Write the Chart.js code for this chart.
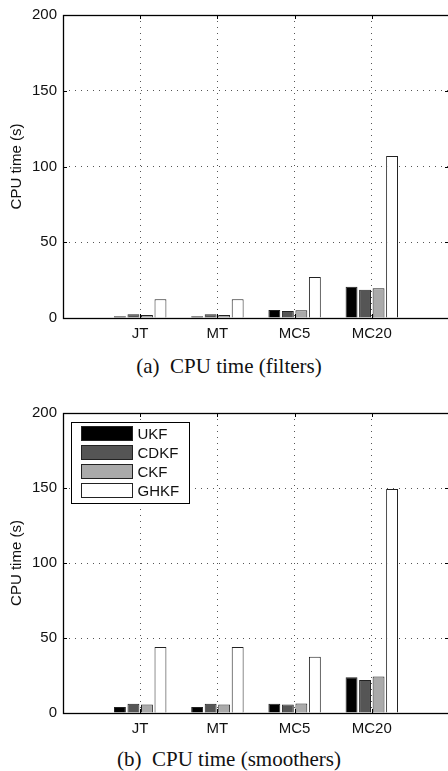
<!DOCTYPE html>
<html>
<head>
<meta charset="utf-8">
<script src="https://cdn.jsdelivr.net/npm/chart.js@4.4.0/dist/chart.umd.min.js"></script>
<style>
  body { margin: 0; background: #fff; width: 448px; height: 771px; overflow: hidden; position: relative; }
  .wrap { position: absolute; left: 0; width: 456px; }
  .caption { position: absolute; left: 0; width: 458px; text-align: center; line-height: 24px;
    font-family: "Liberation Serif", "DejaVu Serif", serif; font-size: 21px; color: #111; }
</style>
</head>
<body>
<div class="wrap" style="top:0px;height:340px"><canvas id="filters-chart"></canvas></div>
<div class="caption" style="top:354px">(a)&nbsp; CPU time (filters)</div>
<div class="wrap" style="top:390px;height:345px"><canvas id="smoothers-chart"></canvas></div>
<div class="caption" style="top:747px">(b)&nbsp; CPU time (smoothers)</div>
<script>
// categories (empty slots at both ends, like the matlab axis 0..5)
const categories = ["", "JT", "MT", "MC5", "MC20", ""];
const methods = ["UKF", "CDKF", "CKF", "GHKF"];
const colors = ["#000000", "#555555", "#aaaaaa", "#ffffff"];

// CPU time (s) - filters
const filtUKF = [null, 1.2, 1.2, 5.2, 20.7, null];
const filtCDKF = [null, 2.4, 2.4, 4.7, 18.6, null];
const filtCKF = [null, 1.9, 1.9, 5.1, 19.6, null];
const filtGHKF = [null, 12.3, 12.3, 27, 107, null];

// CPU time (s) - smoothers
const smoothUKF = [null, 4, 4, 6.2, 23.8, null];
const smoothCDKF = [null, 6.2, 6.2, 5.7, 22, null];
const smoothCKF = [null, 5.7, 5.7, 6.4, 24.4, null];
const smoothGHKF = [null, 44, 44, 37.5, 149.3, null];

const yTicks = [0, 50, 100, 150, 200];

const font = { family: "'Liberation Sans', Arial, sans-serif", size: 15 };

// box around the plot + small inward ticks (matlab style)
const boxPlugin = {
  id: "box",
  afterDatasetsDraw(chart) {
    const ctx = chart.ctx;
    const a = chart.chartArea;
    const xs = chart.scales.x, ys = chart.scales.y;
    ctx.save();
    ctx.strokeStyle = "#000";
    ctx.lineWidth = 1;
    ctx.beginPath();
    for (let i = 1; i < categories.length - 1; i++) {
      const px = Math.round(xs.getPixelForValue(i)) + 0.5;
      ctx.moveTo(px, a.bottom); ctx.lineTo(px, a.bottom - 4);
      ctx.moveTo(px, a.top); ctx.lineTo(px, a.top + 4);
    }
    for (const v of yTicks) {
      const py = Math.round(ys.getPixelForValue(v)) + 0.5;
      ctx.moveTo(a.left, py); ctx.lineTo(a.left + 4, py);
      ctx.moveTo(a.right, py); ctx.lineTo(a.right - 4, py);
    }
    ctx.stroke();
    ctx.lineWidth = 1.3;
    ctx.strokeRect(Math.round(a.left) + 0.5, Math.round(a.top) + 0.5,
      Math.round(a.right - a.left), Math.round(a.bottom - a.top));
    ctx.restore();
  }
};

// legend box drawn inside the plot area, top-left
const insideLegend = {
  id: "insideLegend",
  afterDraw(chart, args, opts) {
    if (!opts.show) return;
    const ctx = chart.ctx;
    const a = chart.chartArea;
    const x0 = Math.round(a.left) + 8.5, y0 = Math.round(a.top) + 9.5;
    const w = 118, h = 81;
    ctx.save();
    ctx.fillStyle = "#fff";
    ctx.fillRect(x0, y0, w, h);
    ctx.strokeStyle = "#000";
    ctx.lineWidth = 1;
    ctx.strokeRect(x0, y0, w, h);
    ctx.font = "15px 'Liberation Sans', Arial, sans-serif";
    ctx.textBaseline = "middle";
    chart.data.datasets.forEach((ds, i) => {
      const cy = y0 + 11 + i * 19;
      ctx.fillStyle = ds.backgroundColor;
      ctx.fillRect(x0 + 10, cy - 7, 51, 14);
      ctx.strokeStyle = "#222";
      ctx.strokeRect(x0 + 10, cy - 7, 51, 14);
      ctx.fillStyle = "#111";
      ctx.fillText(ds.label, x0 + 66, cy + 1);
    });
    ctx.restore();
  }
};

function makeChart(id, series, padTop, showLegend) {
  const ctx = document.getElementById(id).getContext("2d");
  return new Chart(ctx, {
    type: "bar",
    data: {
      labels: categories,
      datasets: methods.map((m, i) => ({
        label: m,
        data: series[i],
        backgroundColor: colors[i],
        borderColor: "#222",
        borderWidth: 1,
        categoryPercentage: 0.7,
        barPercentage: 0.88
      }))
    },
    options: {
      responsive: true,
      maintainAspectRatio: false,
      animation: false,
      layout: { padding: { top: padTop, right: 1, left: 0, bottom: 0 } },
      scales: {
        x: {
          offset: false,
          grid: {
            offset: false,
            color: (c) => (c.index === 0 || c.index === categories.length - 1) ? "transparent" : "#555",
            lineWidth: 1,
            drawTicks: false
          },
          border: { display: false, dash: [1, 5] },
          ticks: { autoSkip: false, maxRotation: 0, color: "#111", font: font, padding: 7 },
          afterFit(scale) { scale.height = 22; }
        },
        y: {
          min: 0,
          max: 200,
          afterBuildTicks(scale) { scale.ticks = yTicks.map((v) => ({ value: v })); },
          grid: {
            color: (c) => (c.tick.value === 0 || c.tick.value === 200) ? "transparent" : "#555",
            lineWidth: 1,
            drawTicks: false
          },
          border: { display: false, dash: [1, 5] },
          ticks: { color: "#111", font: font, padding: 6 },
          title: { display: true, text: "CPU time (s)", color: "#111", font: font, padding: { top: 8, bottom: 4 } },
          afterFit(scale) { scale.width = 63; }
        }
      },
      plugins: {
        legend: { display: false },
        tooltip: { enabled: false },
        insideLegend: { show: showLegend }
      }
    },
    plugins: [boxPlugin, insideLegend]
  });
}

makeChart("filters-chart", [filtUKF, filtCDKF, filtCKF, filtGHKF], 15, false);
makeChart("smoothers-chart", [smoothUKF, smoothCDKF, smoothCKF, smoothGHKF], 23, true);
</script>
</body>
</html>
